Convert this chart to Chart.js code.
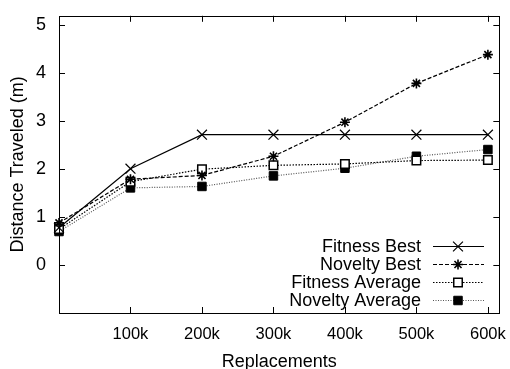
<!DOCTYPE html>
<html>
<head>
<meta charset="utf-8">
<script src="https://cdn.jsdelivr.net/npm/chart.js@4/dist/chart.umd.min.js"></script>
<style>
  body { margin: 0; background: #fff; }
  #wrap { width: 510px; height: 369px; }
</style>
</head>
<body>
<div id="wrap"><canvas id="myChart" width="510" height="369"></canvas></div>
<script>
const replacements = [0, 100000, 200000, 300000, 400000, 500000, 600000]
const fitnessBest = [0.78, 2.01, 2.72, 2.72, 2.72, 2.72, 2.72]
const noveltyBest = [0.88, 1.79, 1.87, 2.27, 2.98, 3.79, 4.39]
const fitnessAverage = [0.75, 1.74, 2.0, 2.08, 2.11, 2.18, 2.19]
const noveltyAverage = [0.7, 1.61, 1.64, 1.86, 2.02, 2.27, 2.41]
const xTicks = [100000, 200000, 300000, 400000, 500000, 600000]
const yTicks = [0, 1, 2, 3, 4, 5]

const font = 'Liberation Sans, Arial, sans-serif'

function pts(values) {
    return values.map((v, i) => ({ x: replacements[i], y: v }))
}

// gnuplot-style frame, inward ticks and legend
const framePlugin = {
    id: 'frame',
    afterDraw(chart) {
        const ctx = chart.ctx
        const a = chart.chartArea
        const xs = chart.scales.x
        const ys = chart.scales.y
        ctx.save()
        ctx.strokeStyle = '#000'
        ctx.lineWidth = 1
        ctx.strokeRect(Math.round(a.left) + 0.5, Math.round(a.top) + 0.5, Math.round(a.right - a.left), Math.round(a.bottom - a.top))
        ctx.beginPath()
        xTicks.forEach((t) => {
            const px = Math.round(xs.getPixelForValue(t)) + 0.5
            ctx.moveTo(px, a.bottom); ctx.lineTo(px, a.bottom - 6)
            ctx.moveTo(px, a.top); ctx.lineTo(px, a.top + 6)
        })
        yTicks.forEach((t) => {
            const py = Math.round(ys.getPixelForValue(t)) + 0.5
            ctx.moveTo(a.left, py); ctx.lineTo(a.left + 6, py)
            ctx.moveTo(a.right, py); ctx.lineTo(a.right - 6, py)
        })
        ctx.stroke()

        // legend: text right-aligned, sample to the right
        ctx.font = '18px ' + font
        ctx.textAlign = 'right'
        ctx.textBaseline = 'middle'
        chart.data.datasets.forEach((ds, i) => {
            const y = 246 + i * 18
            ctx.fillStyle = '#000'
            ctx.fillText(ds.label, 421, y + 1)
            ctx.strokeStyle = ds.borderColor
            ctx.lineWidth = ds.borderWidth
            ctx.setLineDash(ds.borderDash || [])
            ctx.beginPath()
            ctx.moveTo(433, y + 0.5); ctx.lineTo(484, y + 0.5)
            ctx.stroke()
            ctx.setLineDash([])
            ctx.strokeStyle = '#000'
            ctx.fillStyle = ds.pointBackgroundColor
            ctx.lineWidth = ds.pointBorderWidth
            Chart.helpers.drawPoint(ctx, {
                pointStyle: ds.pointStyle,
                radius: ds.pointRadius,
                borderWidth: ds.pointBorderWidth
            }, 458, y + 0.5)
        })
        ctx.restore()
    }
}

new Chart(document.getElementById('myChart').getContext('2d'), {
    type: 'line',
    data: {
        datasets: [
            {
                label: 'Fitness Best',
                data: pts(fitnessBest),
                borderColor: '#000',
                borderWidth: 1.2,
                pointStyle: 'crossRot',
                pointRadius: 7,
                pointBorderColor: '#000',
                pointBackgroundColor: '#000',
                pointBorderWidth: 1.2,
            },
            {
                label: 'Novelty Best',
                data: pts(noveltyBest),
                borderColor: '#000',
                borderWidth: 1.2,
                borderDash: [4, 2],
                pointStyle: 'star',
                pointRadius: 5,
                pointBorderColor: '#000',
                pointBackgroundColor: '#000',
                pointBorderWidth: 1.6,
            },
            {
                label: 'Fitness Average',
                data: pts(fitnessAverage),
                borderColor: '#000',
                borderWidth: 1.2,
                borderDash: [1.5, 1.5],
                pointStyle: 'rect',
                pointRadius: 6,
                pointBorderColor: '#000',
                pointBackgroundColor: '#fff',
                pointBorderWidth: 1.5,
            },
            {
                label: 'Novelty Average',
                data: pts(noveltyAverage),
                borderColor: '#555',
                borderWidth: 1.2,
                borderDash: [1, 1.5],
                pointStyle: 'rect',
                pointRadius: 6,
                pointBorderColor: '#000',
                pointBackgroundColor: '#000',
                pointBorderWidth: 1,
            },
        ],
    },
    options: {
        responsive: false,
        animation: false,
        clip: false,
        layout: { padding: { top: 10, right: 7, left: 0, bottom: 0 } },
        plugins: {
            legend: { display: false },
            tooltip: { enabled: false },
        },
        elements: { line: { tension: 0 } },
        scales: {
            x: {
                type: 'linear',
                min: 0,
                max: 616000,
                afterBuildTicks: (s) => { s.ticks = xTicks.map((v) => ({ value: v })) },
                afterFit: (s) => { s.height = 56 },
                grid: { display: false },
                border: { display: false },
                ticks: {
                    color: '#000',
                    padding: 4,
                    maxRotation: 0,
                    font: { family: font, size: 16.5 },
                    callback: (v) => v / 1000 + 'k',
                },
                title: {
                    display: true,
                    text: 'Replacements',
                    color: '#000',
                    font: { family: font, size: 18 },
                    padding: { top: 0, bottom: -4 },
                },
            },
            y: {
                min: -1,
                max: 5.2,
                afterBuildTicks: (s) => { s.ticks = yTicks.map((v) => ({ value: v })) },
                afterFit: (s) => { s.width = 59 },
                grid: { display: false },
                border: { display: false },
                ticks: {
                    color: '#000',
                    padding: 5,
                    font: { family: font, size: 18 },
                },
                title: {
                    display: true,
                    text: 'Distance Traveled (m)',
                    color: '#000',
                    font: { family: font, size: 18 },
                    padding: { top: 7, bottom: 0 },
                },
            },
        },
    },
    plugins: [framePlugin],
})
</script>
</body>
</html>
